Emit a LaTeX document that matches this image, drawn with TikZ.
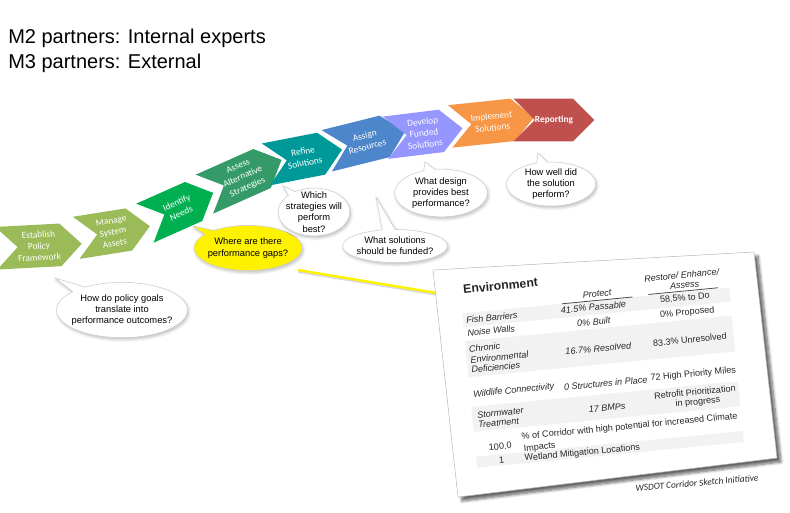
\documentclass[tikz,border=0pt]{standalone}
\usepackage{fontspec}
\setmainfont{Liberation Sans}
\newfontfamily\calibri{Carlito}
\usetikzlibrary{shapes.symbols,shapes.callouts,shadows.blur}

\definecolor{olivestep}{RGB}{155,187,89}
\definecolor{greenstep}{RGB}{0,176,80}
\definecolor{seastep}{RGB}{52,154,104}
\definecolor{tealstep}{RGB}{0,153,153}
\definecolor{bluestep}{RGB}{78,134,204}
\definecolor{lilacstep}{RGB}{150,150,255}
\definecolor{orangestep}{RGB}{247,150,70}
\definecolor{redstep}{RGB}{192,80,77}

\tikzset{
	chevron/.style={signal, signal from=west, signal to=east, text=white,
		minimum width=56pt, minimum height=32pt, inner sep=0pt, align=center,
		font=\calibri\fontsize{7}{8.6}\selectfont},
	bubble/.style={ellipse callout, draw=gray!40, fill=white, align=center,
		callout pointer arc=14, font=\fontsize{7}{8.4}\selectfont,
		blur shadow={shadow xshift=1pt, shadow yshift=-1.5pt, shadow opacity=25}},
	cell/.style={inner sep=0pt, text=black!85, font=\fontsize{6.8}{8}\selectfont},
	rowband/.style={fill=gray!10},
}

\begin{document}
\begin{tikzpicture}[x=0.75pt,y=-0.75pt]
	\useasboundingbox (0,0) rectangle (790,512);

	% heading
	\node[anchor=base west, inner sep=0pt, font=\fontsize{15}{18}\selectfont] (mtwo) at (8,43) {M2 partners: Internal experts};
	\node[anchor=base west, inner sep=0pt, font=\fontsize{15}{18}\selectfont] (mthree) at (8,68) {M3 partners: External};

	% the steps
	\node[chevron, fill=olivestep, rotate=3] (establish) at (39,246) {Establish\\Policy\\Framework};
	\node[chevron, fill=olivestep, rotate=9] (manage) at (113,232) {Manage\\System\\Assets};
	\node[chevron, fill=greenstep, rotate=24] (identify) at (179,208) {Identify\\Needs};
	\node[chevron, fill=seastep, rotate=24] (assess) at (243,177) {Assess\\Alternative\\Strategies};
	\node[chevron, fill=tealstep, rotate=11] (refine) at (304,157) {Refine\\Solutions};
	\node[chevron, fill=bluestep, rotate=14] (assign) at (366,141) {Assign\\Resources};
	\node[chevron, fill=lilacstep, rotate=7] (develop) at (424,133) {Develop\\Funded\\Solutions};
	\node[chevron, fill=orangestep, rotate=6] (implement) at (492,122) {Implement\\Solutions};
	\node[chevron, fill=redstep] (reporting) at (554,120) {\bfseries Reporting};

	% questions
	\node[bubble, inner xsep=-3pt, inner ysep=3pt, callout absolute pointer={(55,278)}] (policy) at (122,310) {How do policy goals\\translate into\\performance outcomes?};
	\node[bubble, fill=yellow, inner xsep=-1.5pt, inner ysep=4.5pt, callout absolute pointer={(193,226)}] (gaps) at (248,248) {Where are there\\performance gaps?};
	\node[bubble, inner xsep=-2pt, inner ysep=-2.5pt, callout absolute pointer={(283,186)}] (which) at (314,212) {Which\\strategies will\\perform\\best?};
	\node[bubble, inner xsep=-1pt, inner ysep=2pt, callout absolute pointer={(376,197)}] (funded) at (395,246) {What solutions\\should be funded?};
	\node[bubble, inner xsep=3pt, inner ysep=1pt, callout absolute pointer={(425,162)}] (design) at (441,193) {What design\\provides best\\performance?};
	\node[bubble, inner xsep=4pt, inner ysep=0pt, callout absolute pointer={(538,153)}] (howwell) at (551,184) {How well did\\the solution\\perform?};

	% link to the sketch
	\coordinate (gapsend) at (298,270);
	\coordinate (tableend) at (437,293);
	\draw[gray!30, line width=1.8pt] ([yshift=-1.2pt]gapsend) -- ([yshift=-1.2pt]tableend);
	\draw[yellow, line width=1.8pt] (gapsend) -- (tableend);

	% the sketch page
	\draw[gray!55, fill=white, blur shadow={shadow xshift=3pt, shadow yshift=-3pt, shadow blur steps=8, shadow opacity=60}]
		(433,270) -- (754,252) -- (777,458) -- (458,497) -- cycle;

	\begin{scope}[shift={(433,270)}, rotate=5.5, transform shape]
		\fill[rowband] (25,46) rectangle (293,60);
		\fill[rowband] (25,74) rectangle (293,110);
		\fill[rowband] (25,140) rectangle (293,165);
		\fill[rowband] (25,190) rectangle (293,201);
		\draw[black!70, line width=0.6pt] (125,46) -- (196,46);
		\draw[black!70, line width=0.6pt] (212,45) -- (282,45);

		\node[cell, anchor=west, font=\bfseries\fontsize{9.2}{11}\selectfont] (envtitle) at (28,22) {Environment};
		\node[cell, anchor=west] (fish) at (28,53) {\itshape Fish Barriers};
		\node[cell, anchor=west] (noise) at (28,66) {\itshape Noise Walls};
		\node[cell, anchor=west] (chronic) at (28,82) {\itshape Chronic};
		\node[cell, anchor=west] (environmental) at (28.5,93) {\itshape Environmental};
		\node[cell, anchor=west] (deficiencies) at (28.5,103) {\itshape Deficiencies};
		\node[cell, anchor=west] (wildlife) at (28,128) {\itshape Wildlife Connectivity};
		\node[cell, anchor=west] (stormwater) at (30,148.5) {\itshape Stormwater};
		\node[cell, anchor=west] (treatment) at (30,158.5) {\itshape Treatment};

		\node[cell] (protect) at (161,39.5) {\itshape Protect};
		\node[cell] (passable) at (156,52.5) {\itshape 41.5\% Passable};
		\node[cell] (built) at (155,67) {\itshape 0\% Built};
		\node[cell] (resolved) at (157,94) {\itshape 16.7\% Resolved};
		\node[cell] (structures) at (161,129.5) {\itshape 0 Structures in Place};
		\node[cell] (bmps) at (160,154) {\itshape 17 BMPs};

		\node[cell] (restore) at (247,29) {\itshape Restore/ Enhance/};
		\node[cell] (assesscol) at (249,39) {\itshape Assess};
		\node[cell] (todo) at (248,51.5) {58.5\% to Do};
		\node[cell] (proposed) at (249,67) {0\% Proposed};
		\node[cell] (unresolved) at (249,94) {83.3\% Unresolved};
		\node[cell] (highmiles) at (249,129) {72 High Priority Miles};
		\node[cell] (retrofit) at (249,146.5) {Retrofit Prioritization};
		\node[cell] (inprogress) at (251,157) {in progress};

		\node[cell] (hundred) at (50,182) {100.0};
		\node[cell, anchor=west] (corridor) at (72,175) {\% of Corridor with high potential for increased Climate};
		\node[cell, anchor=west] (impacts) at (73,187) {Impacts};
		\node[cell] (one) at (50,196) {1};
		\node[cell, anchor=west] (wetland) at (73,196.5) {Wetland Mitigation Locations};
	\end{scope}

	\node[rotate=5, text=black!85, font=\calibri\itshape\fontsize{7}{8}\selectfont] (credit) at (697,483) {WSDOT Corridor Sketch Initiative};
\end{tikzpicture}
\end{document}
